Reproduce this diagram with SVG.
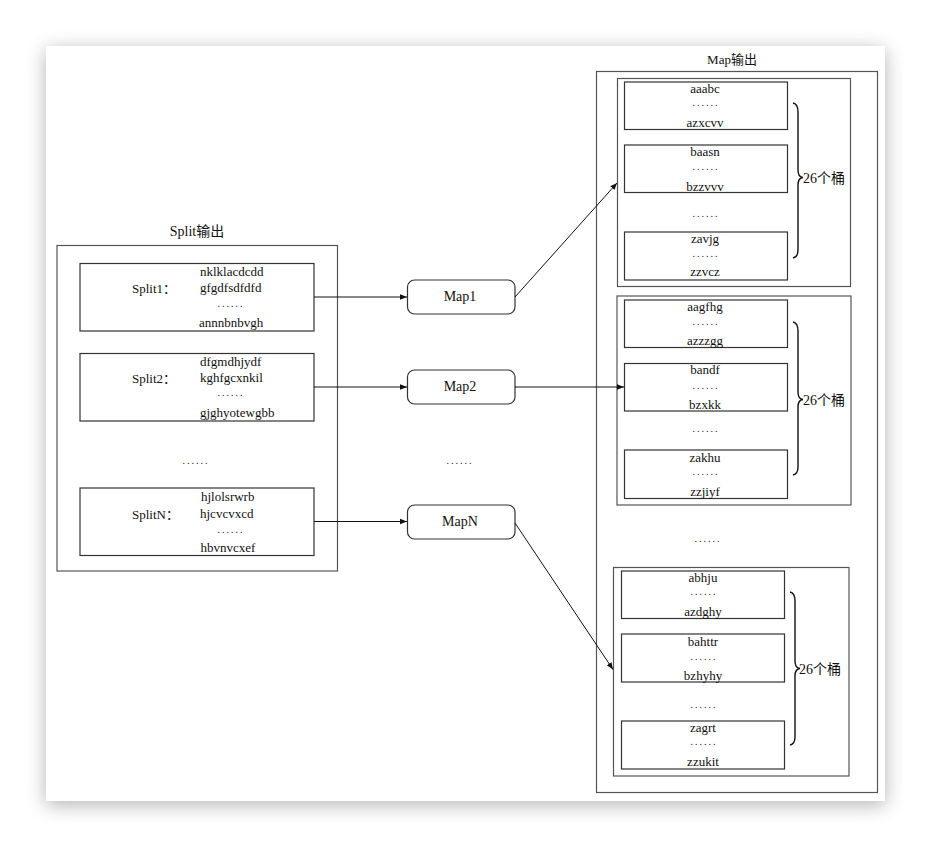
<svg xmlns="http://www.w3.org/2000/svg" width="930" height="846" viewBox="0 0 930 846">
<defs>
<filter id="sh" x="-10%" y="-10%" width="120%" height="120%"><feGaussianBlur stdDeviation="10"/></filter>
<marker id="ar" viewBox="0 0 10 10" refX="10" refY="5" markerWidth="7" markerHeight="7" orient="auto" markerUnits="userSpaceOnUse"><path d="M0,1 L10,5 L0,9 z" fill="#111"/></marker>
<style>
text{font-family:"Liberation Serif","Noto Sans CJK SC",serif;font-size:13px;fill:#111;dominant-baseline:central}
.c{text-anchor:middle}
.t{font-size:14px}
.d{font-size:10px;letter-spacing:2px;text-anchor:middle}
.box{fill:none;stroke:#333;stroke-width:1.2}
.obox{fill:none;stroke:#555;stroke-width:1.2}
.map{fill:#fff;stroke:#333;stroke-width:1.2}
.ln{fill:none;stroke:#111;stroke-width:1;marker-end:url(#ar)}
.br{fill:none;stroke:#111;stroke-width:1.4}
</style>
</defs>
<rect width="930" height="846" fill="#fff"/>
<rect x="46" y="50" width="839" height="755" fill="#000" opacity="0.3" filter="url(#sh)"/>
<rect x="46" y="46" width="839" height="755" fill="#fff"/>

<g id="split-output">
<text class="c t" x="197" y="231">Split输出</text>
<rect class="obox" x="57" y="245.5" width="280.5" height="325.5"/>
<text class="d" x="196" y="460">......</text>
</g>
<g id="split1">
<rect class="box" x="80" y="263.5" width="234" height="67.5"/>
<text x="132" y="288">Split1：</text>
<text x="200" y="271">nklklacdcdd</text>
<text x="200" y="287.5">gfgdfsdfdfd</text>
<text class="d" x="231" y="303">......</text>
<text x="199" y="322.5">annnbnbvgh</text>
</g>
<g id="split2">
<rect class="box" x="80" y="353.5" width="234" height="67.5"/>
<text x="132" y="378">Split2：</text>
<text x="200" y="361">dfgmdhjydf</text>
<text x="200" y="377.5">kghfgcxnkil</text>
<text class="d" x="231" y="392.5">......</text>
<text x="200" y="412.5">gjghyotewgbb</text>
</g>
<g id="splitN">
<rect class="box" x="80" y="488" width="234" height="67.5"/>
<text x="132" y="514">SplitN：</text>
<text x="201" y="496">hjlolsrwrb</text>
<text x="200" y="513">hjcvcvxcd</text>
<text class="d" x="231" y="529.5">......</text>
<text x="200.5" y="547">hbvnvcxef</text>
</g>

<g id="map1"><rect class="map" x="407.5" y="280" width="107.5" height="34" rx="7"/><text class="c t" x="460" y="296.5">Map1</text></g>
<g id="map2"><rect class="map" x="407.5" y="370" width="107.5" height="34" rx="7"/><text class="c t" x="460" y="386.5">Map2</text></g>
<g id="map-dots"><text class="d" x="460" y="460">......</text></g>
<g id="mapN"><rect class="map" x="407.5" y="505" width="107.5" height="34" rx="7"/><text class="c t" x="460" y="521.5">MapN</text></g>

<g id="map-output">
<text class="c" x="732" y="59">Map输出</text>
<rect class="obox" x="596.5" y="71.5" width="281" height="721"/>
<text class="d" x="708" y="538">......</text>
</g>

<g id="group1">
<rect class="obox" x="617.5" y="78.5" width="233" height="208"/>
<rect class="box" x="624.5" y="82" width="163" height="47.5"/>
<text class="c" x="705" y="88.5">aaabc</text><text class="d" x="706" y="102.5">......</text><text class="c" x="705" y="122.5">azxcvv</text>
<rect class="box" x="624.5" y="145" width="163" height="47.5"/>
<text class="c" x="705" y="151">baasn</text><text class="d" x="706" y="166.5">......</text><text class="c" x="705" y="186.5">bzzvvv</text>
<text class="d" x="706" y="213">......</text>
<rect class="box" x="624.5" y="232" width="163" height="48"/>
<text class="c" x="705" y="238.5">zavjg</text><text class="d" x="706" y="253">......</text><text class="c" x="705" y="271.5">zzvcz</text>
<path class="br" d="M793,103 Q798,104 798,112 L798,170 Q798,177 803,177.5 Q798,178 798,185 L798,250 Q798,257 793,258"/>
<text class="t" x="803" y="178">26个桶</text>
</g>

<g id="group2">
<rect class="obox" x="617" y="296" width="234" height="209"/>
<rect class="box" x="624.5" y="300" width="163" height="47.5"/>
<text class="c" x="705" y="306.5">aagfhg</text><text class="d" x="706" y="321">......</text><text class="c" x="705" y="340.5">azzzgg</text>
<rect class="box" x="624.5" y="363.5" width="163" height="47.5"/>
<text class="c" x="705" y="369.5">bandf</text><text class="d" x="706" y="385">......</text><text class="c" x="705" y="404">bzxkk</text>
<text class="d" x="706" y="428">......</text>
<rect class="box" x="624.5" y="450" width="163" height="48.5"/>
<text class="c" x="705" y="457.5">zakhu</text><text class="d" x="706" y="471.5">......</text><text class="c" x="705" y="491.5">zzjiyf</text>
<path class="br" d="M793,322 Q798,323 798,331 L798,392 Q798,399 803,399.5 Q798,400 798,407 L798,467 Q798,474 793,475"/>
<text class="t" x="803" y="400">26个桶</text>
</g>

<g id="group3">
<rect class="obox" x="613.5" y="567.5" width="235.5" height="208.5"/>
<rect class="box" x="621.5" y="571" width="163" height="47.5"/>
<text class="c" x="703" y="577.5">abhju</text><text class="d" x="704" y="591.5">......</text><text class="c" x="703" y="611.5">azdghy</text>
<rect class="box" x="621.5" y="634" width="163" height="48"/>
<text class="c" x="703" y="641">bahttr</text><text class="d" x="704" y="656">......</text><text class="c" x="703" y="675">bzhyhy</text>
<text class="d" x="704" y="704">......</text>
<rect class="box" x="621.5" y="721" width="163" height="48"/>
<text class="c" x="703" y="727.5">zagrt</text><text class="d" x="704" y="741.5">......</text><text class="c" x="703" y="761.5">zzukit</text>
<path class="br" d="M790,592 Q795,593 795,601 L795,661 Q795,668 800,668.5 Q795,669 795,676 L795,737 Q795,744 790,745"/>
<text class="t" x="799" y="669">26个桶</text>
</g>

<g id="connectors">
<line class="ln" x1="314" y1="297" x2="407" y2="297"/>
<line class="ln" x1="314" y1="387" x2="407" y2="387"/>
<line class="ln" x1="314" y1="521.5" x2="407" y2="521.5"/>
<line class="ln" x1="515" y1="297" x2="617" y2="183"/>
<line class="ln" x1="515" y1="387" x2="624" y2="387"/>
<line class="ln" x1="515" y1="523" x2="613" y2="669.5"/>
</g>
</svg>
